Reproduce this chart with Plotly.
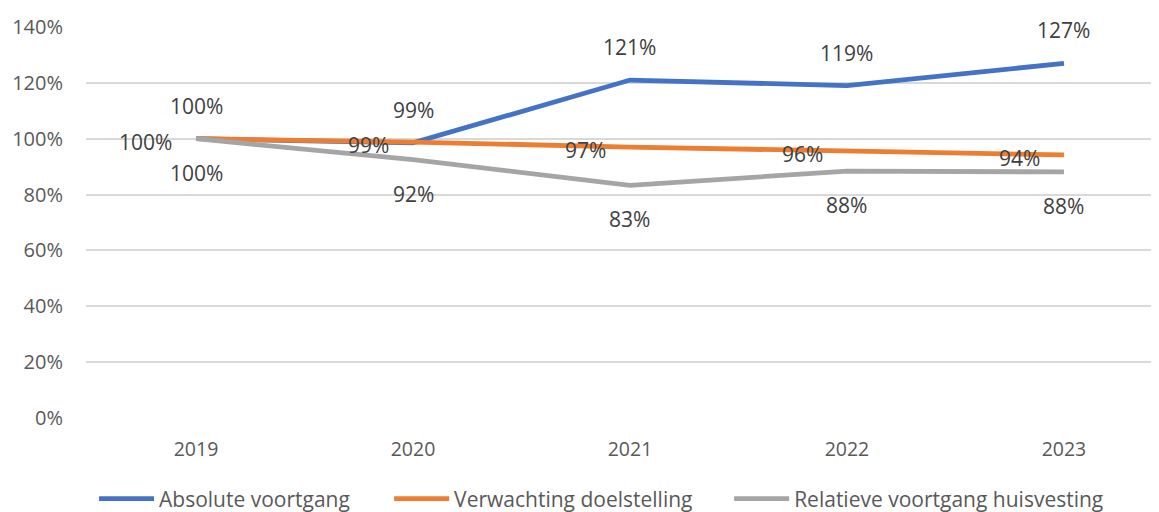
import plotly.graph_objects as go

years = ["2019", "2020", "2021", "2022", "2023"]
absolute = [100, 98.5, 121, 119, 127]
verwachting = [100, 98.8, 97, 95.6, 94.2]
relatief = [100, 92.5, 83.3, 88.4, 88.1]
abs_labels = ["100%", "99%", "121%", "119%", "127%"]
verw_labels = ["100%", "99%", "97%", "96%", "94%"]
rel_labels = ["100%", "92%", "83%", "88%", "88%"]
y_ticks = [0, 20, 40, 60, 80, 100, 120, 140]

FONT = "Open Sans"
LBL = "#404040"
TICK = "#595959"

fig = go.Figure()
series = [
    ("Absolute voortgang", absolute, "#4472C4", "legend", 0.0075),
    ("Verwachting doelstelling", verwachting, "#ED7D31", "legend2", 0.2825),
    ("Relatieve voortgang huisvesting", relatief, "#A5A5A5", "legend3", 0.5994),
]
legends = {}
for name, vals, col, lg, lx in series:
    fig.add_trace(go.Scatter(x=years, y=vals, mode="lines", name=name,
                             line=dict(color=col, width=4.8),
                             legend=lg, hoverinfo="skip"))
    legends[lg] = dict(orientation="h", x=lx, xanchor="left",
                       yref="container", y=0.041, yanchor="middle",
                       itemwidth=55, bgcolor="rgba(0,0,0,0)",
                       font=dict(family=FONT, size=21, color=TICK))

ann = []
for i, (y, t) in enumerate(zip(absolute, abs_labels)):
    ann.append(dict(x=i, y=y, text=t, showarrow=False, yshift=33,
                    xanchor="center", yanchor="middle"))
for i, (y, t) in enumerate(zip(verwachting, verw_labels)):
    ann.append(dict(x=i, y=y, text=t, showarrow=False, xshift=-22, yshift=-3,
                    xanchor="right", yanchor="middle"))
for i, (y, t) in enumerate(zip(relatief, rel_labels)):
    ann.append(dict(x=i, y=y, text=t, showarrow=False, yshift=-34,
                    xanchor="center", yanchor="middle"))
for a in ann:
    a["font"] = dict(family=FONT, size=21, color=LBL)

fig.update_layout(
    width=1159, height=512,
    margin=dict(l=78, r=8, t=19, b=102, autoexpand=False),
    paper_bgcolor="white", plot_bgcolor="white",
    font=dict(family=FONT, size=20, color=TICK),
    annotations=ann,
    showlegend=True,
    **legends,
)
fig.update_xaxes(type="category", range=[-0.507, 4.438], showgrid=False,
                 showline=False, zeroline=False, ticks="", automargin=False,
                 ticklabelstandoff=17, tickfont=dict(size=19.5, color=TICK))
fig.update_yaxes(range=[0, 140], tickvals=y_ticks,
                 ticktext=[f"{v}%" for v in y_ticks],
                 showgrid=True, gridcolor="#D9D9D9", gridwidth=1.5,
                 zeroline=False, showline=False, ticks="", automargin=False,
                 ticklabelstandoff=22, tickfont=dict(size=20, color=TICK))

fig.write_html("out.html")
